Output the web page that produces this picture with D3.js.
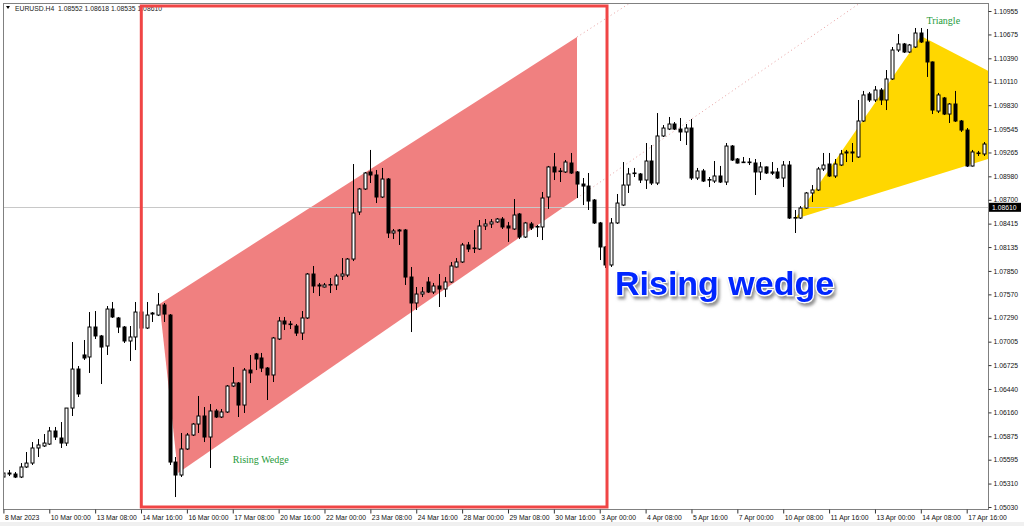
<!DOCTYPE html>
<html>
<head>
<meta charset="utf-8">
<script src="https://cdn.jsdelivr.net/npm/d3@7"></script>
<style>
  body { margin: 0; background: #fff; }
  svg { display: block; }
</style>
</head>
<body>
<div id="chart"></div>
<script>
// EURUSD H4 candles, one row per bar: [open, high, low, close]
// bar 0 = 8 Mar 2023 16:00, one bar every 4 hours (trading time)
const ohlc = [
  [1.05388,1.05723,1.05269,1.05436],[1.05436,1.05472,1.05400,1.05424],[1.05424,1.05448,1.05376,1.05388],
  [1.05388,1.05555,1.05376,1.05508],[1.05508,1.05687,1.05496,1.05555],[1.05555,1.05806,1.05532,1.05735],
  [1.05735,1.05842,1.05627,1.05771],[1.05759,1.05902,1.05747,1.05794],[1.05782,1.05986,1.05771,1.05938],
  [1.05938,1.05986,1.05830,1.05866],[1.05854,1.06045,1.05735,1.05794],[1.05794,1.06212,1.05759,1.06212],
  [1.06212,1.07001,1.06117,1.06678],[1.06678,1.06714,1.06344,1.06380],[1.06846,1.07025,1.06786,1.06810],
  [1.06822,1.07359,1.06631,1.07180],[1.07180,1.07371,1.07037,1.07073],[1.07073,1.07085,1.06499,1.06941],
  [1.06953,1.07431,1.06846,1.07395],[1.07395,1.07479,1.07288,1.07300],[1.07288,1.07300,1.07108,1.07180],
  [1.07180,1.07192,1.06989,1.07013],[1.07013,1.07192,1.06774,1.07061],[1.07061,1.07479,1.06905,1.07359],
  [1.07359,1.07407,1.07144,1.07168],[1.07168,1.07479,1.07156,1.07323],[1.07335,1.07359,1.07240,1.07347],
  [1.07323,1.07586,1.07311,1.07443],[1.07443,1.07467,1.07240,1.07335],[1.07323,1.07335,1.05532,1.05567],
  [1.05567,1.05627,1.05149,1.05412],[1.05412,1.05914,1.05388,1.05723],[1.05723,1.05914,1.05711,1.05890],
  [1.05890,1.06033,1.05878,1.06021],[1.06021,1.06356,1.05914,1.06117],[1.06117,1.06224,1.05806,1.05866],
  [1.05866,1.06260,1.05496,1.06177],[1.06177,1.06201,1.06093,1.06105],[1.06105,1.06201,1.06093,1.06165],
  [1.06165,1.06487,1.06153,1.06475],[1.06475,1.06702,1.06463,1.06511],[1.06511,1.06523,1.06105,1.06248],
  [1.06248,1.06690,1.06153,1.06666],[1.06666,1.06846,1.06511,1.06631],[1.06858,1.06870,1.06666,1.06798],
  [1.06810,1.06870,1.06642,1.06690],[1.06690,1.06702,1.06308,1.06607],[1.06607,1.07061,1.06523,1.07049],
  [1.07037,1.07300,1.07025,1.07252],[1.07252,1.07300,1.07144,1.07216],[1.07216,1.07252,1.07156,1.07210],
  [1.07192,1.07216,1.07073,1.07108],[1.07108,1.07371,1.07025,1.07288],[1.07288,1.07825,1.07276,1.07813],
  [1.07813,1.07909,1.07586,1.07670],[1.07682,1.07706,1.07550,1.07670],[1.07658,1.07706,1.07652,1.07682],
  [1.07682,1.07765,1.07586,1.07688],[1.07682,1.07813,1.07622,1.07789],[1.07789,1.08004,1.07742,1.07813],
  [1.07801,1.08004,1.07777,1.07992],[1.07992,1.09127,1.07968,1.08542],[1.08554,1.08841,1.08518,1.08829],
  [1.08829,1.09032,1.08817,1.09020],[1.09032,1.09295,1.08900,1.08996],[1.08996,1.09056,1.08661,1.08733],
  [1.08733,1.09080,1.08721,1.08948],[1.08948,1.08960,1.08243,1.08303],[1.08303,1.08351,1.08231,1.08327],
  [1.08327,1.08351,1.08160,1.08339],[1.08339,1.08351,1.07682,1.07777],[1.07777,1.07897,1.07120,1.07467],
  [1.07467,1.07658,1.07383,1.07574],[1.07574,1.07658,1.07538,1.07598],[1.07718,1.07777,1.07586,1.07598],
  [1.07598,1.07706,1.07574,1.07670],[1.07670,1.07813,1.07419,1.07634],[1.07634,1.07777,1.07538,1.07718],
  [1.07718,1.07957,1.07706,1.07909],[1.07897,1.08004,1.07891,1.07957],[1.07957,1.08184,1.07945,1.08160],
  [1.08160,1.08196,1.08076,1.08112],[1.08124,1.08339,1.08064,1.08118],[1.08112,1.08458,1.08100,1.08387],
  [1.08387,1.08470,1.08339,1.08411],[1.08411,1.08470,1.08363,1.08435],[1.08435,1.08482,1.08423,1.08470],
  [1.08470,1.08494,1.08351,1.08375],[1.08387,1.08435,1.08196,1.08363],[1.08351,1.08709,1.08339,1.08518],
  [1.08530,1.08542,1.08231,1.08255],[1.08255,1.08435,1.08243,1.08423],[1.08411,1.08435,1.08339,1.08363],
  [1.08375,1.08399,1.08255,1.08381],[1.08375,1.08793,1.08219,1.08721],[1.08733,1.09104,1.08590,1.09092],
  [1.09092,1.09259,1.08936,1.09032],[1.09044,1.09080,1.08912,1.09038],[1.09032,1.09175,1.09020,1.09151],
  [1.09139,1.09259,1.09008,1.09020],[1.09032,1.09044,1.08721,1.08888],[1.08888,1.08960,1.08637,1.08864],
  [1.08864,1.09020,1.08578,1.08685],[1.08697,1.08709,1.08411,1.08423],[1.08423,1.08435,1.07980,1.08136],
  [1.08136,1.08148,1.07885,1.07921],[1.07921,1.08482,1.07897,1.08423],[1.08423,1.08769,1.08411,1.08661],
  [1.08637,1.09151,1.08625,1.08876],[1.08876,1.09080,1.08781,1.09008],[1.09020,1.09080,1.08972,1.09014],
  [1.09008,1.09020,1.08900,1.08936],[1.08936,1.09378,1.08829,1.09163],[1.09163,1.09354,1.08876,1.08900],
  [1.08900,1.09736,1.08876,1.09462],[1.09462,1.09593,1.09450,1.09557],[1.09545,1.09689,1.09533,1.09605],
  [1.09605,1.09629,1.09533,1.09545],[1.09545,1.09677,1.09402,1.09510],[1.09510,1.09605,1.09354,1.09557],
  [1.09557,1.09665,1.08936,1.08960],[1.08960,1.09080,1.08936,1.09044],[1.09044,1.09068,1.08912,1.08924],
  [1.08936,1.08972,1.08852,1.08942],[1.08924,1.09163,1.08900,1.08984],[1.08984,1.09104,1.08900,1.08912],
  [1.08912,1.09378,1.08876,1.09342],[1.09342,1.09354,1.09163,1.09175],[1.09187,1.09199,1.09133,1.09139],
  [1.09151,1.09211,1.09139,1.09145],[1.09145,1.09199,1.09115,1.09151],[1.09139,1.09187,1.08757,1.09032],
  [1.09032,1.09151,1.08936,1.09092],[1.09092,1.09098,1.09008,1.09020],[1.09032,1.09151,1.08996,1.09018],
  [1.09032,1.09080,1.08948,1.08960],[1.08960,1.09163,1.08852,1.09115],[1.09115,1.09163,1.08470,1.08482],
  [1.08482,1.08578,1.08303,1.08488],[1.08482,1.08625,1.08470,1.08601],[1.08601,1.08793,1.08590,1.08781],
  [1.08781,1.08876,1.08673,1.08817],[1.08817,1.09092,1.08805,1.09068],[1.09068,1.09259,1.09044,1.09115],
  [1.09127,1.09259,1.08972,1.08984],[1.08984,1.09187,1.08960,1.09127],[1.09115,1.09295,1.09103,1.09247],
  [1.09259,1.09295,1.09151,1.09271],[1.09271,1.09378,1.09151,1.09259],[1.09211,1.09892,1.09199,1.09641],
  [1.09641,1.10000,1.09629,1.09952],[1.09964,1.09988,1.09868,1.09892],[1.09892,1.10059,1.09868,1.10011],
  [1.10011,1.10035,1.09832,1.09892],[1.09892,1.10250,1.09772,1.10143],[1.10143,1.10525,1.10131,1.10489],
  [1.10489,1.10680,1.10465,1.10561],[1.10561,1.10573,1.10453,1.10465],[1.10465,1.10561,1.10453,1.10549],
  [1.10525,1.10752,1.10513,1.10692],[1.10692,1.10752,1.10573,1.10585],[1.10585,1.10740,1.10167,1.10346],
  [1.10346,1.10352,1.09724,1.09772],[1.09760,1.09976,1.09736,1.09952],[1.09916,1.09928,1.09712,1.09724],
  [1.09724,1.09856,1.09617,1.09844],[1.09844,1.10000,1.09629,1.09641],[1.09641,1.09653,1.09510,1.09533],
  [1.09533,1.09557,1.09092,1.09103],[1.09103,1.09295,1.09097,1.09271],[1.09259,1.09283,1.09223,1.09253],
  [1.09247,1.09390,1.09223,1.09366]
];

// price scale labels on the right
const priceTicks = [1.10955,1.10675,1.10390,1.10110,1.09830,1.09545,1.09265,1.08980,1.08700,1.08415,1.08135,
  1.07850,1.07570,1.07290,1.07005,1.06725,1.06440,1.06160,1.05875,1.05595,1.05310,1.05030];

// time labels, one every 8 bars
const timeLabels = ["8 Mar 2023","10 Mar 00:00","13 Mar 08:00","14 Mar 16:00","16 Mar 00:00","17 Mar 08:00",
  "20 Mar 16:00","22 Mar 00:00","23 Mar 08:00","24 Mar 16:00","28 Mar 00:00","29 Mar 08:00","30 Mar 16:00",
  "3 Apr 00:00","4 Apr 08:00","5 Apr 16:00","7 Apr 00:00","10 Apr 08:00","11 Apr 16:00","13 Apr 00:00",
  "14 Apr 08:00","17 Apr 16:00"];
const labelEvery = 8;

const lastPrice = 1.08610;
const headerText = "EURUSD.H4  1.08552 1.08618 1.08535 1.08610";

// drawn objects, as [bar, price]
const wedge = [[27.23,1.07455],[100.04,1.10644],[100.04,1.08721],[30.45,1.05436]];
const wedgeRays = [
  [[100.04,1.10644],[115,1.11301]],
  [[100.04,1.08721],[160,1.11551]]
];
const triangle = [[138.05,1.08470],[160.03,1.10656],[190.3,1.09581]];
const markBox = [[24.05,1.11015],[105.27,1.05030]];
const wedgeLabel = {text: "Rising Wedge", at: [40.0, 1.05555]};
const triLabel = {text: "Triangle", at: [161.0, 1.10800]};
const bigLabel = "Rising wedge";

const W = 1024, H = 526;
const plot = {left: 3, top: 3, right: 988, bottom: 509};

const svg = d3.select("#chart").append("svg")
    .attr("width", W)
    .attr("height", H)
    .style("font-family", "'Liberation Sans', Arial, sans-serif");

svg.append("rect").attr("width", W).attr("height", H).attr("fill", "#fff");
svg.append("rect").attr("x", 0).attr("y", 522).attr("width", W).attr("height", 4).attr("fill", "#f0f0f0");

const x = d3.scaleLinear().domain([0, 171]).range([3.4, 983.9]);
const y = d3.scaleLinear().domain([1.05030, 1.10955]).range([507, 11]);

const defs = svg.append("defs");
defs.append("clipPath").attr("id", "plotclip")
  .append("rect")
    .attr("x", plot.left).attr("y", plot.top)
    .attr("width", plot.right - plot.left).attr("height", plot.bottom - plot.top);

const shadow = defs.append("filter").attr("id", "shadow")
    .attr("x", "-10%").attr("y", "-30%").attr("width", "130%").attr("height", "180%");
shadow.append("feDropShadow")
    .attr("dx", 2).attr("dy", 3).attr("stdDeviation", 1.6)
    .attr("flood-color", "#777").attr("flood-opacity", 0.8);

const g = svg.append("g").attr("clip-path", "url(#plotclip)");

const toPts = arr => arr.map(d => [x(d[0]), y(d[1])].join(",")).join(" ");

// wedge + triangle objects (background)
g.append("polygon").attr("points", toPts(wedge)).attr("fill", "#f08080");
g.append("polygon").attr("points", toPts(triangle)).attr("fill", "#ffd700");

g.selectAll(".ray")
  .data(wedgeRays)
  .join("line")
    .attr("class", "ray")
    .attr("x1", d => x(d[0][0])).attr("y1", d => y(d[0][1]))
    .attr("x2", d => x(d[1][0])).attr("y2", d => y(d[1][1]))
    .attr("stroke", "#e8a0a0")
    .attr("stroke-width", 1)
    .attr("stroke-dasharray", "1 3");

// bid line
g.append("line")
    .attr("x1", plot.left).attr("x2", plot.right)
    .attr("y1", Math.round(y(lastPrice)) + 0.5).attr("y2", Math.round(y(lastPrice)) + 0.5)
    .attr("stroke", "#c8c8c8");

// candles
const candle = g.selectAll(".candle")
  .data(ohlc)
  .join("g")
    .attr("class", "candle");

candle.append("line")
    .attr("x1", (d, i) => Math.round(x(i)) + 0.5)
    .attr("x2", (d, i) => Math.round(x(i)) + 0.5)
    .attr("y1", d => y(d[1]))
    .attr("y2", d => y(d[2]))
    .attr("stroke", "#000");

candle.append("rect")
    .attr("x", (d, i) => Math.round(x(i)) - 1)
    .attr("width", 3)
    .attr("y", d => y(Math.max(d[0], d[3])))
    .attr("height", d => Math.max(Math.abs(y(d[0]) - y(d[3])), 0.6))
    .attr("fill", d => d[3] >= d[0] ? "#fff" : "#000")
    .attr("stroke", "#000")
    .attr("stroke-width", 1);

// frame
svg.append("rect")
    .attr("x", plot.left + 0.5).attr("y", plot.top + 0.5)
    .attr("width", plot.right - plot.left).attr("height", plot.bottom - plot.top)
    .attr("fill", "none")
    .attr("stroke", "#808080");

// price axis
const yAxis = svg.append("g")
    .attr("transform", `translate(${plot.right + 0.5},0)`)
    .call(d3.axisRight(y).tickValues(priceTicks).tickSize(3).tickPadding(2).tickFormat(d3.format(".5f")));
yAxis.select(".domain").remove();
yAxis.selectAll("line").attr("stroke", "#333");
yAxis.selectAll("text")
    .attr("fill", "#111")
    .style("font-size", "6.8px")
    .style("font-family", "'Liberation Sans', Arial, sans-serif");

// current price tag
const tagY = y(lastPrice);
svg.append("rect")
    .attr("x", plot.right + 1).attr("y", tagY - 4.5)
    .attr("width", 32).attr("height", 9)
    .attr("fill", "#000");
svg.append("text")
    .attr("x", plot.right + 4).attr("y", tagY)
    .attr("dy", "0.35em")
    .attr("fill", "#fff")
    .style("font-size", "6.8px")
    .text(d3.format(".5f")(lastPrice));

// time axis
const xAxis = svg.append("g")
    .attr("transform", `translate(0,${plot.bottom + 0.5})`)
    .call(d3.axisBottom(x)
        .tickValues(d3.range(0, timeLabels.length * labelEvery, labelEvery))
        .tickSize(4)
        .tickFormat((d, i) => timeLabels[i]));
xAxis.select(".domain").remove();
xAxis.selectAll("line").attr("stroke", "#333");
xAxis.selectAll("text")
    .attr("text-anchor", "start")
    .attr("x", 1)
    .attr("y", 6)
    .attr("fill", "#111")
    .style("font-size", "6.8px")
    .style("font-family", "'Liberation Sans', Arial, sans-serif");

// header
svg.append("path").attr("d", "M6,6 L10,6 L8,9 Z").attr("fill", "#000");
svg.append("text")
    .attr("x", 15).attr("y", 11)
    .attr("fill", "#222")
    .style("font-size", "6.8px")
    .style("white-space", "pre")
    .attr("xml:space", "preserve")
    .text(headerText);

// marker box round the wedge
svg.append("rect")
    .attr("x", x(markBox[0][0])).attr("y", y(markBox[0][1]))
    .attr("width", x(markBox[1][0]) - x(markBox[0][0]))
    .attr("height", y(markBox[1][1]) - y(markBox[0][1]))
    .attr("fill", "none")
    .attr("stroke", "#f04545")
    .attr("stroke-width", 3);

// object labels
[wedgeLabel, triLabel].forEach(l => {
  svg.append("text")
      .attr("x", x(l.at[0])).attr("y", y(l.at[1]))
      .attr("fill", "#1e9a3a")
      .style("font-family", "'Liberation Serif', 'Times New Roman', serif")
      .style("font-size", "10px")
      .text(l.text);
});

svg.append("text")
    .attr("x", 615).attr("y", 295)
    .attr("fill", "#0026ff")
    .attr("stroke", "#fff")
    .attr("stroke-width", 2.5)
    .attr("paint-order", "stroke")
    .attr("filter", "url(#shadow)")
    .style("font-size", "34px")
    .style("font-weight", "bold")
    .text(bigLabel);
</script>
</body>
</html>
